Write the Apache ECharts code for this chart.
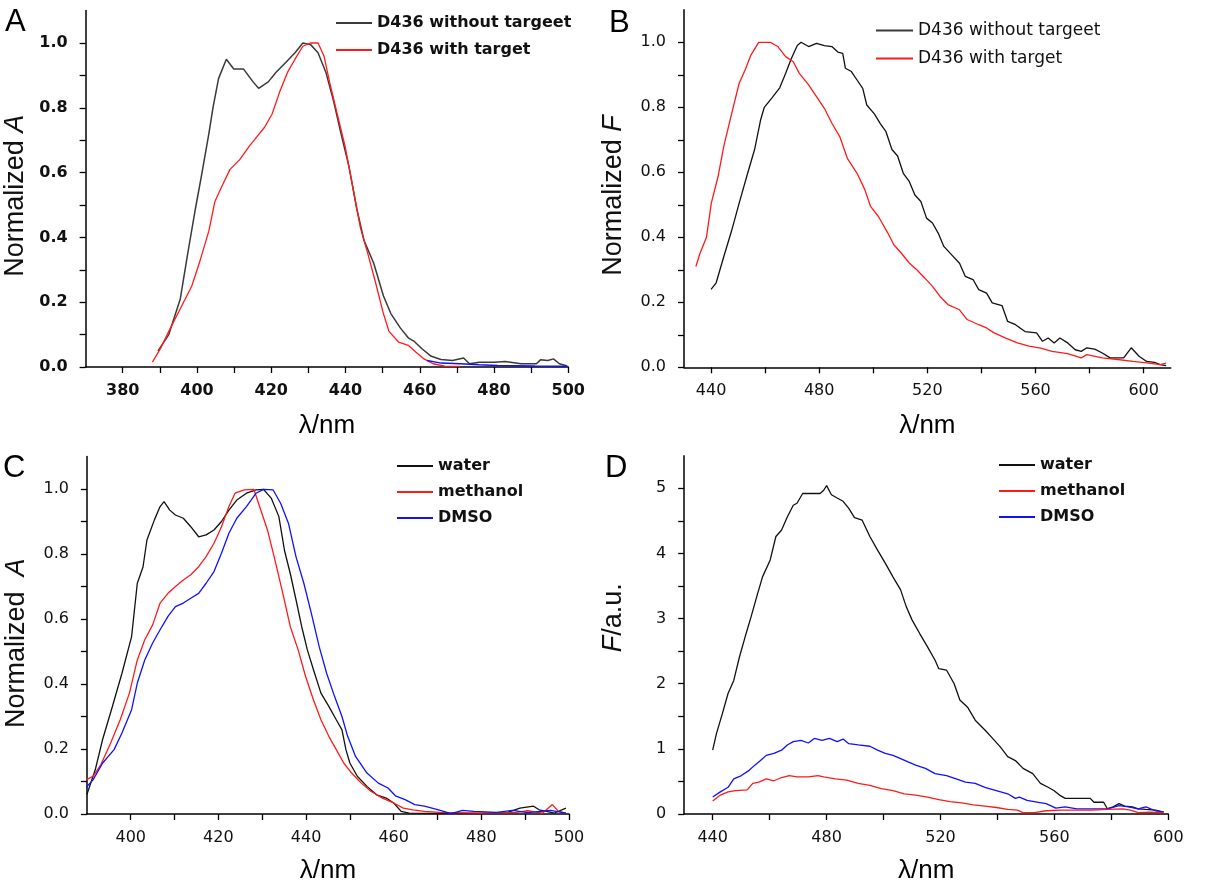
<!DOCTYPE html>
<html><head><meta charset="utf-8">
<script src="https://cdn.jsdelivr.net/npm/echarts@6/dist/echarts.min.js"></script>
<style>html,body{margin:0;padding:0;background:#fff}#c{width:1207px;height:886px}</style>
</head><body><div id="c"></div>
<script>
// ---------- Panel A: normalized absorbance ----------
const aWithout = [[389.5,0.05],[392.4,0.10],[395.5,0.21],[397.5,0.35],[399.6,0.49],[401.2,0.59],[403.2,0.72],[404.3,0.80],[405.8,0.89],[407.9,0.95],[409.9,0.92],[412.5,0.92],[415.1,0.88],[416.6,0.86],[419.2,0.88],[421.3,0.91],[423.9,0.94],[426.4,0.97],[428.5,1.0],[430.6,0.995],[432.6,0.97],[434.7,0.91],[436.8,0.82],[438.8,0.72],[440.9,0.62],[443,0.49],[445,0.39],[447.6,0.32],[450.2,0.22],[452.2,0.165],[454.8,0.12],[456.9,0.09],[458.4,0.08],[460.5,0.057],[463.1,0.033],[465.7,0.023],[468.8,0.02],[471.8,0.028],[473.4,0.01],[476,0.015],[480,0.015],[483,0.017],[487.3,0.01],[491.4,0.01],[492.5,0.022],[494.5,0.02],[496,0.025],[497.6,0.01],[499.7,0.003]];
const aWith = [[388,0.015],[390.3,0.06],[392.4,0.11],[395.5,0.18],[398.6,0.25],[400.6,0.32],[403.2,0.42],[404.8,0.51],[406.8,0.56],[408.9,0.61],[411.5,0.64],[414,0.68],[416.1,0.71],[418.2,0.74],[420.2,0.78],[422.3,0.85],[424.4,0.91],[426.4,0.95],[428.5,0.99],[430.6,1.0],[432.6,1.0],[434.2,0.96],[435.7,0.88],[437.8,0.78],[439.9,0.68],[441.9,0.56],[444,0.43],[446,0.35],[448.1,0.26],[450.2,0.165],[451.7,0.11],[454.3,0.077],[456.9,0.067],[458.9,0.046],[461,0.026],[463.6,0.01],[466.7,0.003],[470.8,0.002]];
const aBase = [[462,0.02],[465.7,0.012],[470.8,0.01],[476,0.007],[481,0.005],[491,0.003],[499.7,0.002]];

// ---------- Panel B: normalized fluorescence ----------
const bWithout = [[440,0.24],[441.9,0.26],[444.7,0.34],[447.6,0.42],[450.4,0.505],[453.3,0.59],[456.1,0.67],[458.3,0.76],[459.7,0.80],[462.6,0.83],[465.4,0.86],[467.6,0.905],[469.7,0.95],[471.9,0.99],[473.3,1.0],[476.1,0.987],[479,0.997],[481.9,0.99],[484.7,0.987],[486.9,0.97],[488.7,0.966],[489.7,0.92],[491.9,0.91],[494,0.884],[496.1,0.858],[497.6,0.807],[500.4,0.78],[502.6,0.75],[504.7,0.725],[506.9,0.67],[509,0.65],[511.1,0.597],[513.3,0.572],[515.4,0.53],[517.6,0.51],[519.7,0.459],[521.9,0.444],[524,0.413],[526.1,0.372],[529,0.346],[531.9,0.32],[534,0.28],[536.9,0.27],[539,0.239],[541.9,0.228],[544,0.198],[547.6,0.19],[549.7,0.141],[552.6,0.131],[556.1,0.11],[560.4,0.106],[562.6,0.08],[564.7,0.09],[566.9,0.075],[569,0.09],[571.9,0.075],[574.7,0.054],[576.9,0.049],[579,0.06],[581.9,0.056],[584.7,0.044],[587.6,0.029],[592.6,0.029],[595.4,0.06],[598.3,0.034],[601.1,0.018],[604,0.015],[606.1,0.008],[608.3,0.005]];
const bWith = [[434.4,0.31],[435.9,0.35],[438.3,0.40],[440.1,0.505],[442.6,0.587],[444.7,0.68],[447.6,0.78],[450.4,0.874],[452.6,0.915],[454.7,0.96],[457.6,1.0],[461.9,1.0],[464.7,0.987],[467.6,0.956],[470.4,0.94],[472.6,0.905],[476.1,0.869],[479,0.833],[481.9,0.797],[484.7,0.751],[487.6,0.71],[490.4,0.643],[494,0.597],[496.9,0.546],[499,0.495],[501.9,0.464],[505.4,0.413],[507.6,0.377],[510.4,0.351],[513.3,0.321],[516.1,0.3],[519,0.275],[521.9,0.249],[524.7,0.218],[527.6,0.193],[531.9,0.177],[534.7,0.147],[539,0.131],[541.9,0.121],[544.7,0.106],[549,0.09],[553.3,0.075],[557.6,0.065],[561.9,0.059],[566.1,0.049],[571.9,0.042],[576.9,0.029],[579,0.039],[584.7,0.029],[590.4,0.024],[596.1,0.018],[601.9,0.013],[606.1,0.008],[608.3,0.013]];

// ---------- Panel C: absorbance in solvents ----------
const cWater = [[390,0.06],[391.9,0.136],[393.6,0.23],[395.8,0.33],[398,0.433],[400.2,0.546],[401.5,0.71],[402.8,0.76],[403.7,0.843],[405.4,0.905],[406.7,0.946],[407.6,0.961],[408.9,0.935],[410.2,0.92],[412,0.91],[413.7,0.884],[415.5,0.853],[417.2,0.859],[419,0.874],[420.7,0.9],[422.4,0.935],[424.2,0.966],[426.4,0.987],[428.6,0.997],[430.3,0.999],[432.1,0.971],[433.8,0.915],[435.1,0.81],[436.4,0.74],[437.7,0.66],[439,0.577],[440.3,0.505],[441.7,0.444],[443.4,0.372],[445.2,0.331],[446.9,0.29],[448.2,0.259],[449.1,0.198],[450,0.157],[451.7,0.116],[453.9,0.085],[456.1,0.059],[458.3,0.049],[460,0.034],[461.7,0.008],[463.5,0.003],[470,0.002],[480,0.002],[486,0.005],[488.8,0.018],[491.9,0.024],[493.2,0.013],[496.7,0.003],[499.3,0.018]];
const cMethanol = [[389.7,0.105],[391.4,0.116],[393.2,0.152],[395.4,0.218],[397.6,0.29],[399.7,0.372],[401.5,0.474],[403.2,0.536],[405,0.582],[406.7,0.649],[408.5,0.679],[410.2,0.7],[412,0.72],[413.7,0.736],[415.5,0.761],[417.2,0.792],[419,0.833],[420.7,0.884],[422.4,0.946],[423.8,0.987],[425.9,0.997],[428.1,0.999],[429.4,0.946],[431.2,0.874],[432.9,0.782],[434.7,0.679],[436.4,0.577],[438.2,0.505],[439.9,0.423],[441.7,0.351],[443.4,0.29],[445.2,0.239],[446.9,0.198],[448.6,0.157],[450.4,0.126],[452.6,0.095],[454.8,0.07],[457.4,0.049],[460,0.034],[462.2,0.018],[464.4,0.013],[467,0.008],[470.5,0.005],[480,0.003],[488,0.005],[490.6,0.01],[494,0.003],[496.2,0.029],[497.6,0.008],[499.3,0.003]];
const cDmso = [[389.7,0.08],[391.4,0.105],[393.6,0.157],[396.2,0.198],[398,0.249],[400.2,0.321],[401.5,0.403],[403.2,0.474],[405,0.526],[406.7,0.567],[408.5,0.608],[410.2,0.638],[412,0.649],[413.7,0.664],[415.5,0.679],[417.2,0.71],[419,0.746],[420.7,0.802],[422.4,0.864],[424.2,0.91],[426.4,0.946],[428.6,0.987],[430.3,0.999],[432.5,0.997],[434.2,0.956],[436,0.894],[437.7,0.792],[439.5,0.71],[441.2,0.618],[443,0.515],[444.7,0.433],[446.5,0.362],[448.2,0.3],[449.5,0.239],[451.3,0.177],[453.9,0.126],[456.5,0.095],[458.7,0.08],[460.4,0.056],[462.6,0.044],[464.8,0.029],[467,0.024],[469.6,0.015],[471.4,0.008],[473.1,0.001],[475.7,0.011],[478.3,0.008],[483.5,0.005],[487.1,0.011],[490.6,0.004],[495.8,0.011],[499.3,0.003]];

// ---------- Panel D: fluorescence in solvents ----------
const dWater = [[440,0.98],[441.3,1.23],[443.4,1.54],[445.4,1.85],[447.4,2.05],[449.4,2.41],[451.4,2.72],[453.5,3.03],[455.5,3.34],[457.5,3.64],[460.2,3.9],[462.2,4.26],[464.2,4.36],[466.2,4.56],[468.3,4.74],[469.6,4.77],[471.6,4.92],[474.3,4.92],[477.7,4.92],[479,4.97],[480,5.04],[481.7,4.9],[483.7,4.85],[485.8,4.8],[487.8,4.69],[489.8,4.55],[492.5,4.51],[495.2,4.26],[497.9,4.05],[500.6,3.85],[503.3,3.64],[506,3.44],[508,3.18],[510,2.98],[512.7,2.77],[515.4,2.57],[518.1,2.36],[519.4,2.23],[522.1,2.21],[524.8,2.0],[526.8,1.75],[529.5,1.64],[532.2,1.44],[535.6,1.29],[538.3,1.16],[541,1.03],[543.6,0.88],[546.3,0.82],[549,0.70],[552.4,0.62],[555.1,0.47],[557.8,0.41],[559.8,0.36],[561.8,0.29],[563.8,0.24],[567.9,0.24],[572.6,0.24],[573.9,0.18],[577.3,0.18],[578.6,0.08],[580.6,0.11],[582.7,0.16],[584.7,0.12],[587.4,0.11],[589.4,0.08],[592.1,0.07],[595.5,0.06],[598.4,0.03]];
const dMethanol = [[440,0.2],[442.7,0.29],[445.4,0.34],[448.1,0.36],[452.1,0.37],[454.1,0.47],[456.2,0.49],[458.8,0.54],[461.5,0.51],[464.2,0.56],[466.9,0.59],[469.6,0.57],[473.6,0.57],[477,0.59],[479,0.57],[483.1,0.54],[487.1,0.52],[491.1,0.47],[495.2,0.44],[499.2,0.39],[503.3,0.36],[507.3,0.31],[511.3,0.29],[515.4,0.26],[519.4,0.22],[523.4,0.19],[527.5,0.17],[531.5,0.14],[535.6,0.12],[539.6,0.1],[543.6,0.07],[547,0.06],[549,0.02],[553,0.02],[557.1,0.05],[562.5,0.06],[567.9,0.06],[573.2,0.06],[578.6,0.07],[584,0.08],[586.7,0.06],[589.4,0.02],[593.4,0.03],[598.4,0.02]];
const dDmso = [[440,0.26],[442.7,0.34],[445.4,0.41],[447.4,0.54],[450.1,0.59],[452.8,0.67],[454.8,0.75],[456.8,0.82],[458.8,0.9],[461.5,0.93],[464.2,0.98],[466.2,1.06],[468.3,1.11],[471,1.13],[473.6,1.09],[475.7,1.16],[478.4,1.13],[481,1.16],[483.7,1.11],[485.8,1.15],[487.8,1.08],[491.1,1.06],[495.2,1.04],[497.9,0.98],[500.6,0.93],[503.3,0.9],[506,0.85],[508.6,0.8],[511.3,0.75],[514.7,0.7],[518.1,0.62],[522.1,0.59],[525.5,0.54],[528.8,0.49],[532.2,0.47],[535.6,0.41],[539.6,0.36],[543.6,0.31],[546.3,0.24],[547.7,0.26],[550.4,0.21],[554.4,0.18],[557.1,0.16],[560.5,0.09],[563.8,0.11],[567.9,0.08],[573.2,0.08],[578.6,0.08],[582.7,0.13],[586,0.11],[589.4,0.08],[592.1,0.11],[595.5,0.05],[598.4,0.03]];

// ---------- tick labels ----------
const aXLabels = [380,400,420,440,460,480,500];
const aXTicks = [380,390,400,410,420,430,440,450,460,470,480,490,500];
const bXLabels = [440,480,520,560,600];
const bXTicks = [440,460,480,500,520,540,560,580,600];
const cXLabels = [400,420,440,460,480,500];
const cXTicks = [400,410,420,430,440,450,460,470,480,490,500];
const dXLabels = [440,480,520,560,600];
const dXTicks = [440,460,480,500,520,540,560,580,600];
const normYLabels = [0,0.2,0.4,0.6,0.8,1.0];
const normYTicks = [0,0.1,0.2,0.3,0.4,0.5,0.6,0.7,0.8,0.9,1.0];
const dYLabels = [0,1,2,3,4,5];
const dYTicks = [0,0.5,1,1.5,2,2.5,3,3.5,4,4.5,5];

const namesAB = ['D436 without targeet','D436 with target'];
const namesCD = ['water','methanol','DMSO'];

const BLACK = '#111', GREY = '#3a3a3a', RED = '#ff1a1a', BLUE = '#1010ff';
const LF = 'DejaVu Sans', NF = 'Liberation Sans';

const grids = [
  {left:85.6, top:10.6, width:482.7, height:356.4},
  {left:684, top:9.8, width:486.7, height:357.5},
  {left:86.9, top:456.5, width:482.1, height:357.5},
  {left:684.2, top:455.7, width:484.1, height:358.3}
].map(g => Object.assign({containLabel:false, outerBoundsMode:'none'}, g));

function xAx(gi, min, max, labels, ticks, bold, gap) {
  return {gridIndex:gi, type:'value', min, max, name:'λ/nm', nameLocation:'middle', nameGap:gap,
    nameTextStyle:{fontFamily:NF, fontSize:26, color:'#000'},
    axisLine:{show:true, onZero:false, lineStyle:{color:'#000', width:1.5}},
    axisTick:{show:true, inside:false, length:6, customValues:ticks, lineStyle:{color:'#000', width:1.3}},
    axisLabel:{show:true, customValues:labels, margin:16, fontFamily:LF, fontSize:16,
      fontWeight:bold?'bold':'normal', color:'#111'},
    splitLine:{show:false}};
}
function yAx(gi, max, labels, ticks, bold, name, rich, pad, dec) {
  return {gridIndex:gi, type:'value', min:0, max, name, nameLocation:'middle', nameGap:57,
    nameTextStyle:{fontFamily:NF, fontSize:27, color:'#111', padding:pad, rich},
    axisLine:{show:true, onZero:false, lineStyle:{color:'#000', width:1.5}},
    axisTick:{show:true, inside:false, length:6, customValues:ticks, lineStyle:{color:'#000', width:1.3}},
    axisLabel:{show:true, customValues:labels, margin:18, fontFamily:LF, fontSize:16,
      fontWeight:bold?'bold':'normal', color:'#111', formatter:v => v.toFixed(dec)},
    splitLine:{show:false}};
}
const italic = () => ({i:{fontFamily:NF, fontSize:27, fontStyle:'italic', color:'#111'}});

function line(name, data, color, gi, w) {
  return {type:'line', name, data, xAxisIndex:gi, yAxisIndex:gi, showSymbol:false, symbol:'none',
    smooth:false, animation:false, color, itemStyle:{color},
    lineStyle:{color, width:w||1.3}, emphasis:{disabled:true}};
}
function legend(left, top, names, bold, w, gap, fs) {
  return {left, top, orient:'vertical', padding:0, itemWidth:w, itemHeight:2, itemGap:gap, icon:'rect',
    data:names, selectedMode:false,
    textStyle:{fontFamily:LF, fontSize:fs, fontWeight:bold?'bold':'normal', color:'#111', lineHeight:16}};
}
const letter = (t, left, top) => ({text:t, left, top, padding:0,
  textStyle:{fontFamily:NF, fontSize:31, fontWeight:'normal', color:'#000'}});

const option = {
  backgroundColor:'#fff',
  animation:false,
  title:[letter('A',5,7), letter('B',609,8), letter('C',3,453), letter('D',605,453)],
  grid:grids,
  xAxis:[
    xAx(0,370,500,aXLabels,aXTicks,true,46),
    xAx(1,430,610,bXLabels,bXTicks,false,46),
    xAx(2,390,500,cXLabels,cXTicks,false,44),
    xAx(3,430,600,dXLabels,dXTicks,false,44)
  ],
  yAxis:[
    yAx(0,1.1,normYLabels,normYTicks,true,'Normalized {i|A}',italic(),[0,14,0,0],1),
    yAx(1,1.1,normYLabels,normYTicks,false,'Normalized {i|F}',italic(),[0,14,0,0],1),
    yAx(2,1.1,normYLabels,normYTicks,false,'Normalized  {i|A}',italic(),[0,16,0,0],1),
    yAx(3,5.5,dYLabels,dYTicks,false,'{i|F}/a.u.',italic(),[0,0,0,34],0)
  ],
  legend:[
    legend(336,15,namesAB,true,36,11,16),
    legend(876,22,namesAB,false,37,11,17),
    legend(397,458,namesCD,true,36,10,16),
    legend(999,457,namesCD,true,36,10,16)
  ],
  series:[
    line(namesAB[0], aWithout, GREY, 0, 1.5),
    line(namesAB[1], aWith, RED, 0, 1.3),
    line('', aBase, BLUE, 0, 1.5),
    line(namesAB[0], bWithout, BLACK, 1),
    line(namesAB[1], bWith, RED, 1),
    line(namesCD[0], cWater, BLACK, 2),
    line(namesCD[1], cMethanol, RED, 2),
    line(namesCD[2], cDmso, BLUE, 2),
    line(namesCD[0], dWater, BLACK, 3),
    line(namesCD[2], dDmso, BLUE, 3),
    line(namesCD[1], dMethanol, RED, 3)
  ]
};
const chart = echarts.init(document.getElementById('c'), null, {renderer:'canvas', width:1207, height:886});
chart.setOption(option);
</script></body></html>
